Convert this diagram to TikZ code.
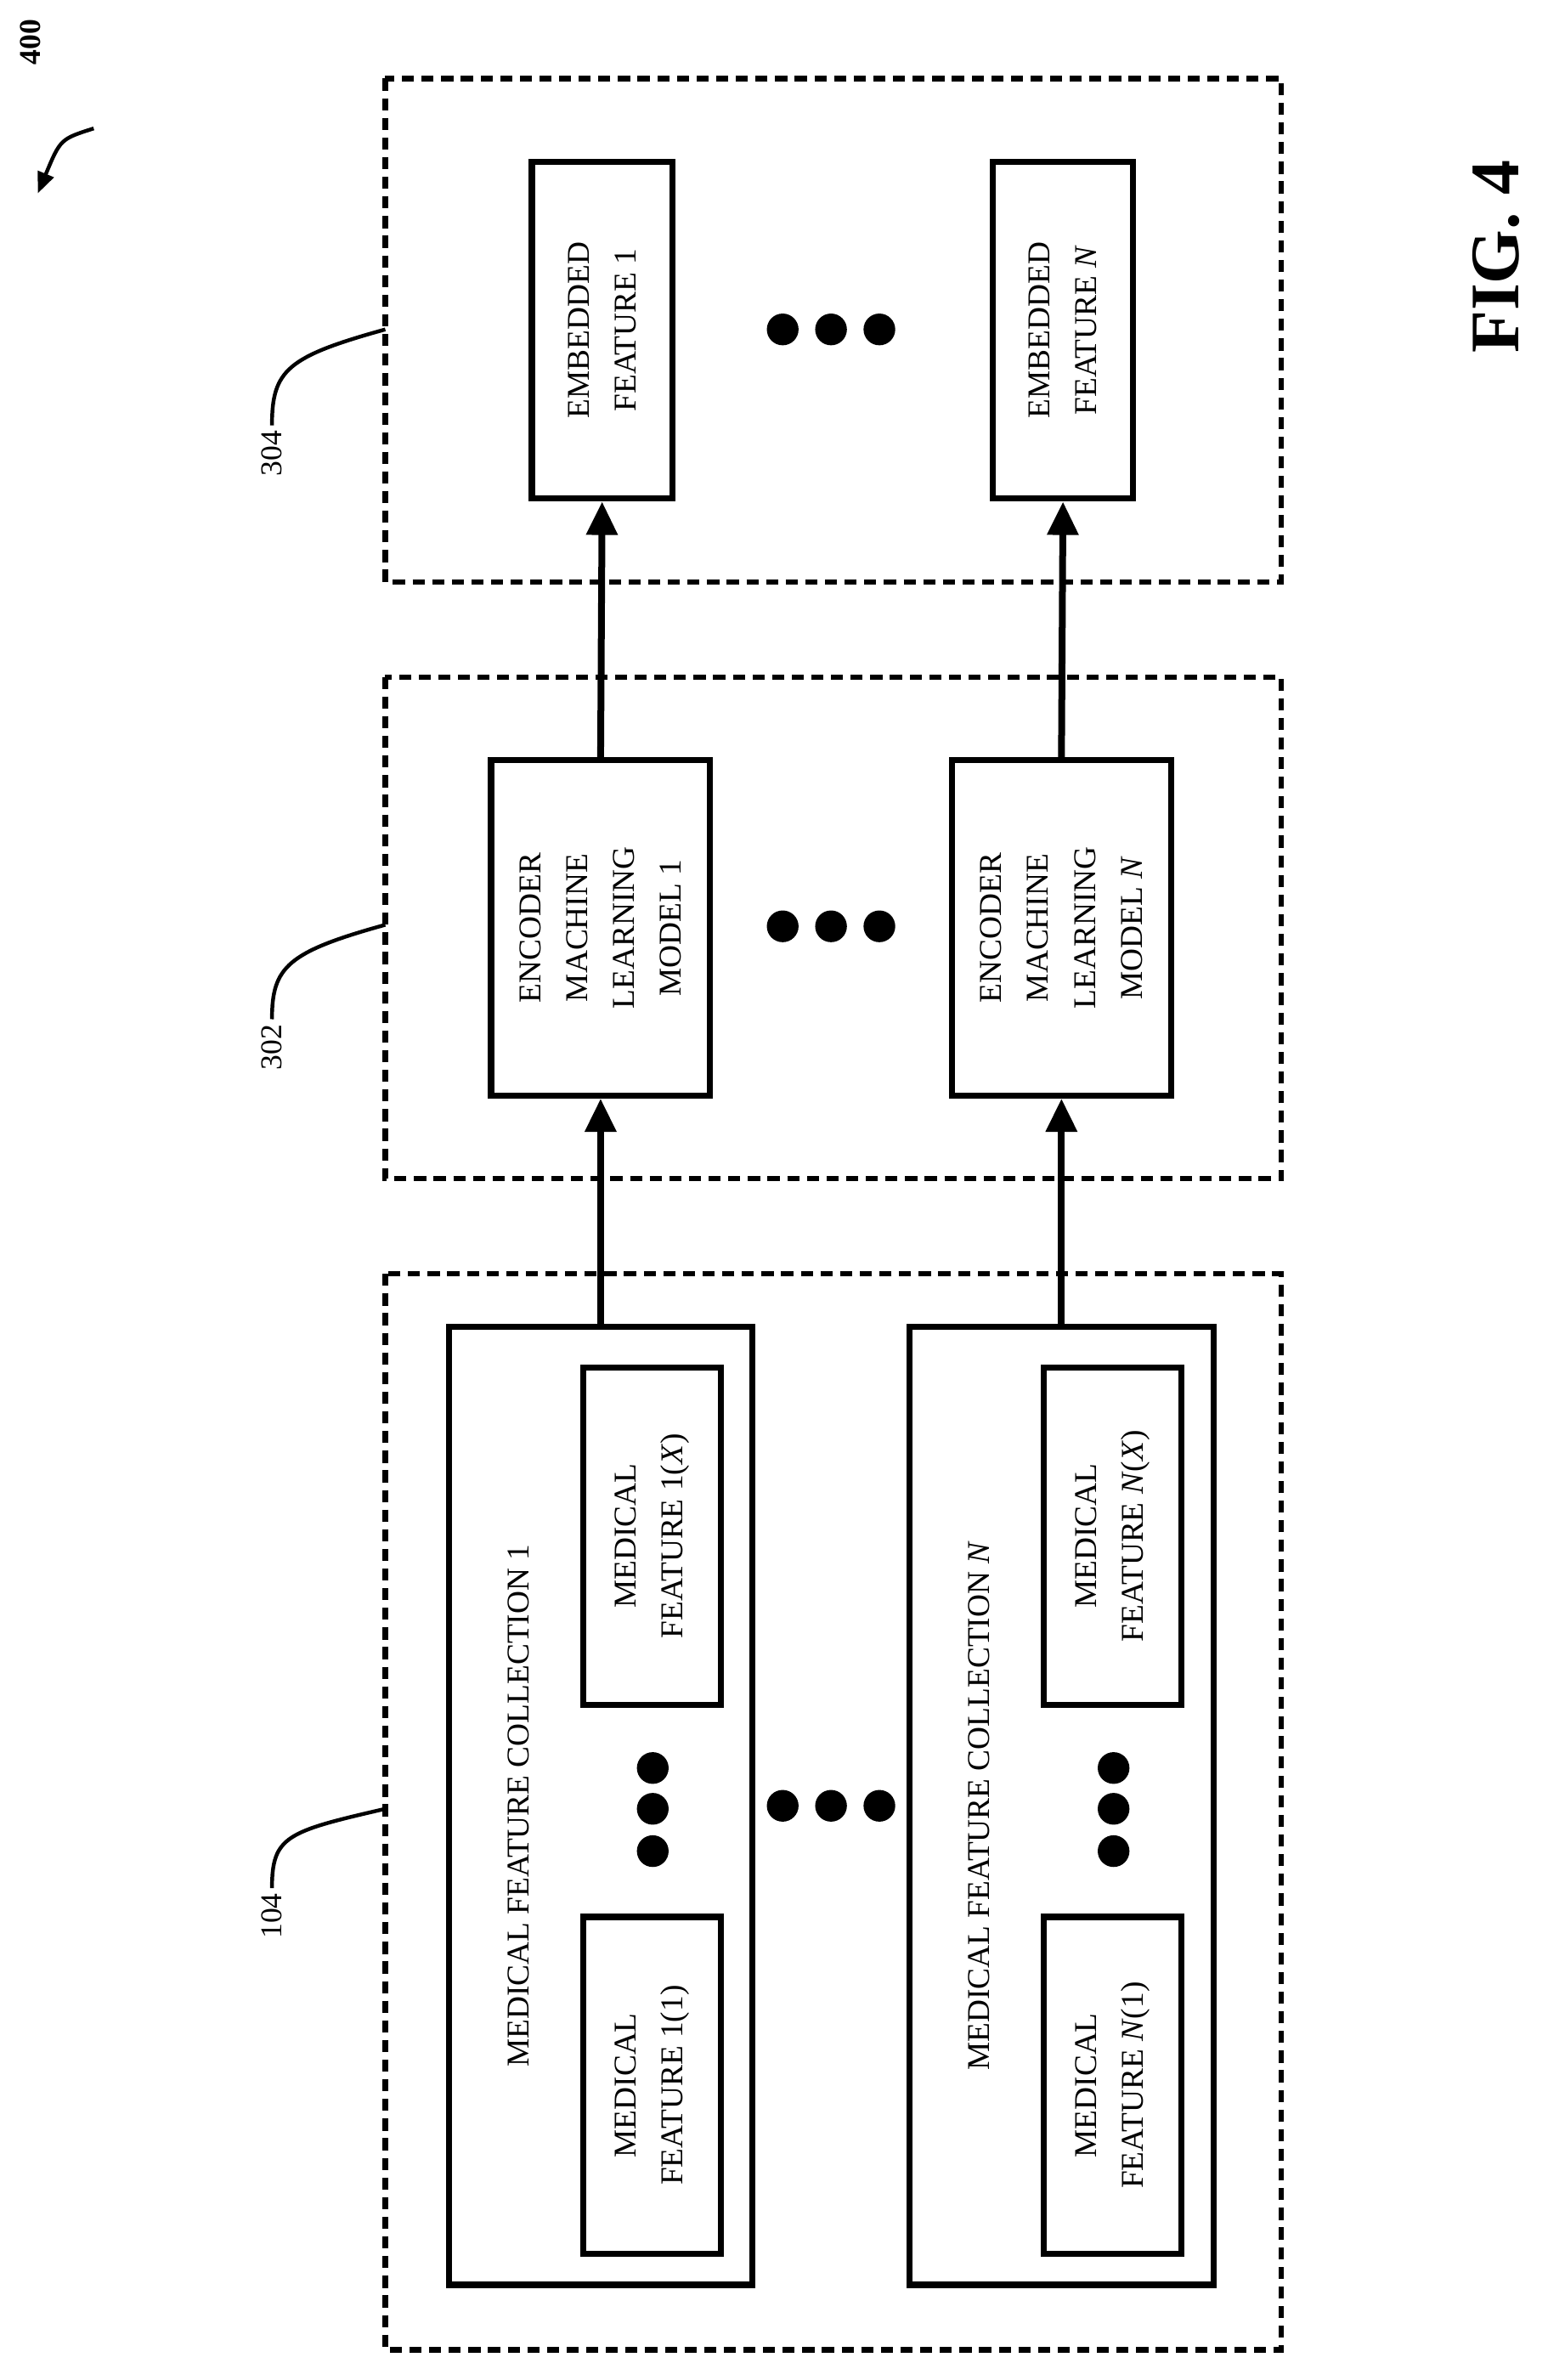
\documentclass[tikz,border=0pt]{standalone}
\usepackage{fontspec}
\setmainfont{Liberation Serif}
\usetikzlibrary{arrows.meta}
\tikzset{
	blk/.style={draw, line width=4pt, rotate=90, align=center, font=\fontsize{21}{31}\selectfont, inner sep=0pt},
	grp/.style={line width=3.5pt, dash pattern=on 8pt off 5pt},
	flow/.style={line width=4.5pt, -{Triangle[length=22pt,width=20pt]}},
	dot/.style={fill, circle, minimum size=21pt, inner sep=0pt},
	lead/.style={line width=2.5pt},
	ref/.style={rotate=90, font=\fontsize{20}{24}\selectfont}
}
\begin{document}
\begin{tikzpicture}[x=1pt,y=-1pt]
	\useasboundingbox (0,0) rectangle (1024,1575);
	
	%gruppen
	\draw[grp] (255,52) rectangle (848,385);
	\draw[grp] (255,448) rectangle (848,780);
	\draw[grp] (255,843) rectangle (848,1555);
	
	%eingebettete merkmale
	\node[blk, minimum width=223pt, minimum height=93pt] (emb1) at (398.5,218.5) {EMBEDDED\\FEATURE 1};
	\node[blk, minimum width=223pt, minimum height=93pt] (embN) at (703.5,218.5) {EMBEDDED\\FEATURE \textit{N}};
	
	%encoder
	\node[blk, minimum width=222pt, minimum height=145pt] (enc1) at (397.5,614) {ENCODER\\MACHINE\\LEARNING\\MODEL 1};
	\node[blk, minimum width=222pt, minimum height=145pt] (encN) at (702.5,614) {ENCODER\\MACHINE\\LEARNING\\MODEL \textit{N}};
	
	%sammlungen
	\node[blk, minimum width=634pt, minimum height=201pt] (col1) at (397.5,1195) {};
	\node[blk, minimum width=634pt, minimum height=201pt] (colN) at (702.5,1195) {};
	\node[ref, font=\fontsize{21}{24}\selectfont] (col1t) at (343,1195) {MEDICAL FEATURE COLLECTION 1};
	\node[ref, font=\fontsize{21}{24}\selectfont] (colNt) at (648,1195) {MEDICAL FEATURE COLLECTION \textit{N}};
	\node[blk, minimum width=223pt, minimum height=91pt] (f1x) at (431.5,1016.5) {MEDICAL\\FEATURE 1(\textit{X})};
	\node[blk, minimum width=223pt, minimum height=91pt] (f11) at (431.5,1380) {MEDICAL\\FEATURE 1(1)};
	\node[blk, minimum width=223pt, minimum height=91pt] (fNx) at (736.5,1016.5) {MEDICAL\\FEATURE \textit{N}(\textit{X})};
	\node[blk, minimum width=223pt, minimum height=91pt] (fN1) at (736.5,1380) {MEDICAL\\FEATURE \textit{N}(1)};
	
	%punkte
	\foreach \x in {518,550,582} {
		\node[dot] at (\x,218) {};
		\node[dot] at (\x,613) {};
		\node[dot] at (\x,1195) {};
	}
	\foreach \y in {1170,1197,1225} {
		\node[dot] at (432,\y) {};
		\node[dot] at (737,\y) {};
	}
	
	%pfeile
	\draw[flow] (col1.east) -- (enc1.west);
	\draw[flow] (colN.east) -- (encN.west);
	\draw[flow] (enc1.east) -- (emb1.west);
	\draw[flow] (encN.east) -- (embN.west);
	
	%bezugszeichen
	\node[ref] (r104) at (180,1268) {104};
	\node[ref] (r302) at (180,693) {302};
	\node[ref] (r304) at (180,300) {304};
	\coordinate (t104) at (255,1197);
	\coordinate (t302) at (255,612);
	\coordinate (t304) at (255,218);
	\draw[lead] (r104.east) .. controls (180,1215) and (190,1212) .. (t104);
	\draw[lead] (r302.east) .. controls (180,640) and (190,630) .. (t302);
	\draw[lead] (r304.east) .. controls (180,245) and (190,236) .. (t304);
	
	\node[ref, font=\bfseries\fontsize{20}{24}\selectfont] (r400) at (20,28) {400};
	\coordinate (a400s) at (62,85);
	\coordinate (a400e) at (25,128);
	\draw[lead, -{Triangle[length=14pt,width=11pt]}] (a400s) .. controls (40,92) .. (a400e);
	
	\node[ref, font=\bfseries\fontsize{46}{50}\selectfont] (fig) at (990,170) {FIG. 4};
\end{tikzpicture}
\end{document}
